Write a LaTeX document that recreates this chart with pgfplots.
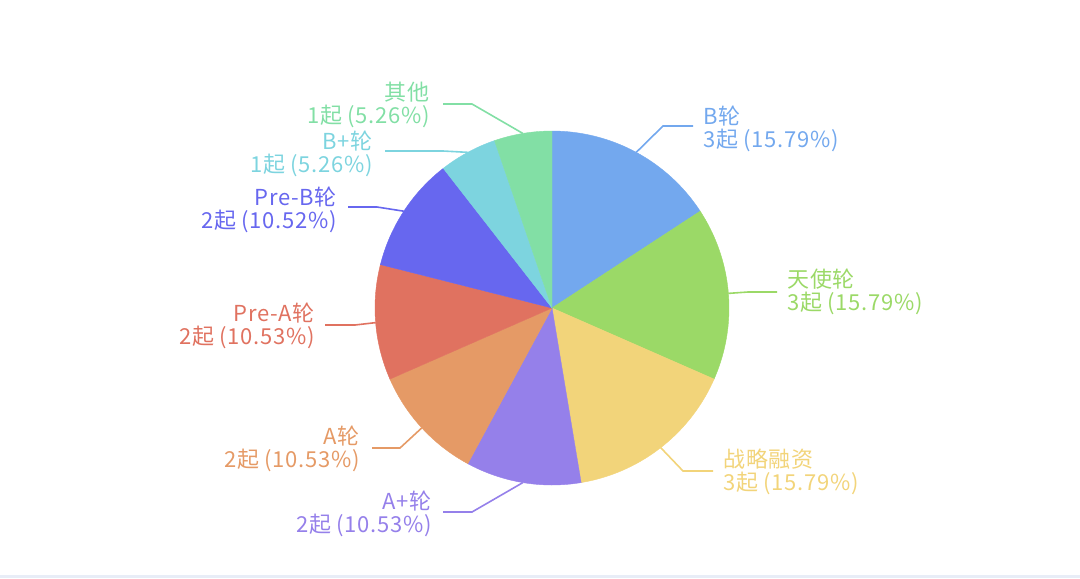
\documentclass[border=0pt]{standalone}
\usepackage{pgfplots}
\usepackage{pgfplotstable}
\pgfplotsset{compat=1.18}
\usepackage{fontspec}
\newfontfamily\cjk[LetterSpace=3]{Noto Sans CJK SC}

\definecolor{c0}{HTML}{73A8EE}
\definecolor{c1}{HTML}{9BD967}
\definecolor{c2}{HTML}{F2D47A}
\definecolor{c3}{HTML}{9580EA}
\definecolor{c4}{HTML}{E59A66}
\definecolor{c5}{HTML}{E07260}
\definecolor{c6}{HTML}{6767EF}
\definecolor{c7}{HTML}{7DD4DF}
\definecolor{c8}{HTML}{82DFA5}
\definecolor{bottomline}{HTML}{E8EDF7}

% slice values (number of deals) and label layout (elbow x, elbow y, line end x)
\pgfplotstableread{
value elx ely endx
3 663 126 693
3 748 292 777
3 683 471 713
2 472 512 443
2 400 448 372
2 355 325 325
2 377 207 348
1 443 151 385
1 472 104 443
}\piedata

\begin{document}
\begin{tikzpicture}
\begin{axis}[
  scale only axis, width=540pt, height=289pt,
  xmin=0, xmax=1080, ymin=0, ymax=578, y dir=reverse,
  hide axis, clip=false,
]
\path (axis cs:0,0) rectangle (axis cs:1080,578);
\addplot[draw=none, fill=bottomline] coordinates {(0,575) (1080,575) (1080,578) (0,578)} -- cycle;
\def\total{19}
\gdef\cum{0}
\pgfplotsforeachungrouped \i in {0,...,8}{
  \pgfplotstablegetelem{\i}{value}\of\piedata
  \let\val\pgfplotsretval
  \pgfplotstablegetelem{\i}{elx}\of\piedata \let\elx\pgfplotsretval
  \pgfplotstablegetelem{\i}{ely}\of\piedata \let\ely\pgfplotsretval
  \pgfplotstablegetelem{\i}{endx}\of\piedata \let\endx\pgfplotsretval
  \pgfmathsetmacro\a{\cum/\total*360}
  \pgfmathsetmacro\b{(\cum+\val)/\total*360}
  \pgfmathsetmacro\m{(\a+\b)/2}
  \pgfmathsetmacro\ex{552+177*sin(\m)}
  \pgfmathsetmacro\ey{308-177*cos(\m)}
  \edef\temp{%
    \noexpand\addplot[fill=c\i, draw=c\i, line width=0.2pt, domain=\a:\b, samples=60, variable=\noexpand\t]
      ({552+177*sin(\noexpand\t)},{308-177*cos(\noexpand\t)}) -- (axis cs:552,308) -- cycle;
    \noexpand\addplot[draw=c\i, line width=0.8pt] coordinates {(\ex,\ey) (\elx,\ely) (\endx,\ely)};
  }%
  \temp
  \pgfmathsetmacro\newcum{\cum+\val}
  \xdef\cum{\newcum}
}
\tikzset{lab/.style={inner sep=0pt, font=\cjk\fontsize{11}{11.5}\selectfont}}
\node[lab, anchor=west, align=left, text=c0] at (axis cs:703,128.5) {B轮\\3起 (15.79\%)};
\node[lab, anchor=west, align=left, text=c1] at (axis cs:787,291.5) {天使轮\\3起 (15.79\%)};
\node[lab, anchor=west, align=left, text=c2] at (axis cs:723,471.5) {战略融资\\3起 (15.79\%)};
\node[lab, anchor=east, align=right, text=c3] at (axis cs:432,513.5) {A+轮\\2起 (10.53\%)};
\node[lab, anchor=east, align=right, text=c4] at (axis cs:360,448.5) {A轮\\2起 (10.53\%)};
\node[lab, anchor=east, align=right, text=c5] at (axis cs:315,325.5) {Pre-A轮\\2起 (10.53\%)};
\node[lab, anchor=east, align=right, text=c6] at (axis cs:337,210) {Pre-B轮\\2起 (10.52\%)};
\node[lab, anchor=east, align=right, text=c7] at (axis cs:373,153.5) {B+轮\\1起 (5.26\%)};
\node[lab, anchor=east, align=right, text=c8] at (axis cs:430,105) {其他\\1起 (5.26\%)};
\end{axis}
\end{tikzpicture}
\end{document}
